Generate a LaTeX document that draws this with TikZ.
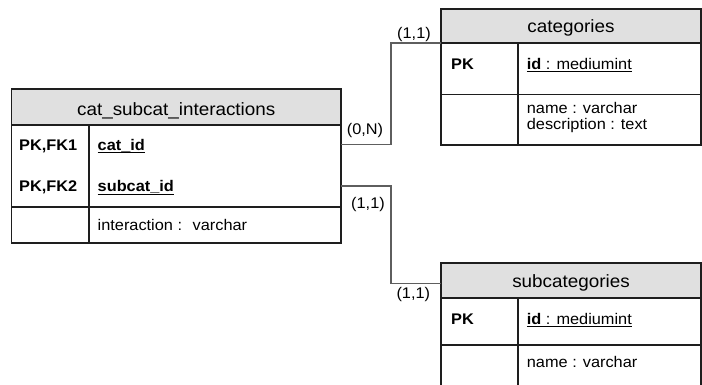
\documentclass[tikz,border=0pt]{standalone}
\usepackage{fontspec}
\setmainfont{Liberation Sans}
\definecolor{hdr}{HTML}{E0E0E0}
\definecolor{edge}{HTML}{1E1E1E}
\definecolor{link}{HTML}{5E5E5E}
% underline placed at the level of the underscore glyph
\newcommand\keyline[1]{\setbox0\hbox{#1}\rlap{\rule[-2.6pt]{\wd0}{0.9pt}}\box0}
\tikzset{
  box/.style={draw=edge, line width=1.2pt, inner sep=0, outer sep=0},
  headbox/.style={box, fill=hdr},
  tbl/.style={draw=edge, line width=1.2pt},
  hd/.style={font=\fontsize{17.8}{20}\selectfont, xscale=1.06, inner sep=0, anchor=base},
  txt/.style={font=\fontsize{15.4}{15}\selectfont, xscale=1.06, inner sep=0, anchor=base west},
  key/.style={txt, font=\fontsize{15.4}{15}\selectfont\bfseries},
  rel/.style={draw=link, line width=1.2pt},
  card/.style={font=\fontsize{15.4}{15}\selectfont, xscale=1.06, inner sep=0, anchor=base},
}
\begin{document}
\begin{tikzpicture}[x=1pt,y=-1pt]
\useasboundingbox (0,0) rectangle (702,385);
\clip (0,0) rectangle (702,385);

% ---- cat_subcat_interactions ----
\node[box, minimum width=329.5pt, minimum height=154pt] (inter) at (176.25,166) {};
\node[headbox, minimum width=329.5pt, minimum height=36pt, anchor=north] (interhead) at (inter.north) {};
\node[hd] (intertitle) at (176.25,115.7) {cat\_subcat\_interactions};
\draw[tbl] (89,125) -- (89,243);
\draw[tbl] (11.5,207) -- (341,207);
\node[key] (pkfk1) at (19,150.7) {PK,FK1};
\node[key] (pkfk2) at (19,192) {PK,FK2};
\node[key] (catid) at (97.5,150.7) {\keyline{cat\_id}};
\node[key] (subcatid) at (97.5,192) {\keyline{subcat\_id}};
\node[txt] (interaction) at (97.5,230) {interaction :~ varchar};

% ---- categories ----
\node[box, minimum width=260pt, minimum height=136pt] (cattbl) at (571,77) {};
\node[headbox, minimum width=260pt, minimum height=34pt, anchor=north] (cathead) at (cattbl.north) {};
\node[hd] (cattitle) at (571,32.7) {categories};
\draw[tbl] (518,43) -- (518,145);
\draw[tbl] (441,94.5) -- (701,94.5);
\node[key] (catpk) at (451,69.3) {PK};
\node[txt] (catidf) at (526.7,69.3) {\keyline{\textbf{id} : mediumint}};
\node[txt] (catname) at (526.7,114) {name : varchar};
\node[txt] (catdesc) at (526.7,129.3) {description : text};

% ---- subcategories ----
\node[box, minimum width=260pt, minimum height=137pt] (subtbl) at (571,331.5) {};
\node[headbox, minimum width=260pt, minimum height=35pt, anchor=north] (subhead) at (subtbl.north) {};
\node[hd] (subtitle) at (571,287.7) {subcategories};
\draw[tbl] (518,298) -- (518,400);
\draw[tbl] (441,345) -- (701,345);
\node[key] (subpk) at (451,324) {PK};
\node[txt] (subidf) at (526.7,324) {\keyline{\textbf{id} : mediumint}};
\node[txt] (subname) at (526.7,367.7) {name : varchar};

% ---- relationships ----
\coordinate (subjoin) at ([yshift=-20.5pt]subtbl.north west);
\draw[rel] (inter.east |- catid.base) ++(0,-6) -- ++(50,0) |- (cathead.south west);
\draw[rel] (inter.east |- subcatid.base) ++(0,-6) -- ++(50,0) |- (subjoin);

\node[card] (c0n) at (365,135) {(0,N)};
\node[card] (c11a) at (414,38.3) {(1,1)};
\node[card] (c11b) at (368,208.3) {(1,1)};
\node[card] (c11c) at (413.3,298.3) {(1,1)};
\end{tikzpicture}
\end{document}
